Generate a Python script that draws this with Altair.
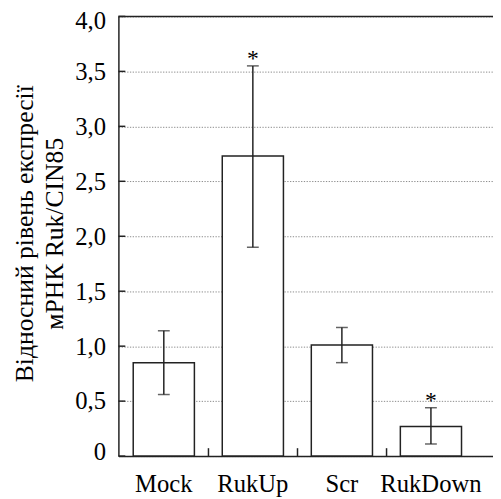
import altair as alt
import pandas as pd

categories = ["Mock", "RukUp", "Scr", "RukDown"]
means = [0.85, 2.73, 1.01, 0.27]
err_low = [0.56, 1.90, 0.85, 0.11]
err_high = [1.14, 3.55, 1.17, 0.44]
marks = ["", "*", "", "*"]
y_ticks = [0, 0.5, 1.0, 1.5, 2.0, 2.5, 3.0, 3.5, 4.0]
boundary_cats = ["RukUp", "Scr", "RukDown"]
y_title = ["Відносний рівень експресії", "мРНК Ruk/CIN85"]

W, H = 380, 446
FONT = "Liberation Serif"
INK = "#222222"

df = pd.DataFrame({"cat": categories, "mean": means, "lo": err_low,
                   "hi": err_high, "star": marks})
df_ticks = pd.DataFrame({"v": y_ticks})
df_bound = pd.DataFrame({"cat": boundary_cats})

xscale = alt.Scale(domain=categories, paddingInner=0.313, paddingOuter=0.26, align=0.32)
yscale = alt.Scale(domain=[0, 4], nice=False, zero=True)

xaxis = alt.Axis(title=None, ticks=False, grid=False, labelPadding=16, labelAngle=0,
                 labelFont=FONT, labelFontSize=25, labelColor="black")
yaxis = alt.Axis(title=y_title, values=y_ticks, ticks=False, grid=True,
                 labelPadding=13, labelFlush=True, labelFlushOffset=8,
                 labelFont=FONT, labelFontSize=25, labelColor="black",
                 labelExpr="datum.value == 0 ? '0' : replace(format(datum.value, '.1f'), '.', ',')",
                 titleFont=FONT, titleFontSize=26, titleFontWeight="normal",
                 titleColor="black", titleLineHeight=30,
                 titleX=-87, titleY=220, titleBaseline="alphabetic")

bars = alt.Chart(df).mark_bar(fill="white", stroke=INK, strokeWidth=1.5).encode(
    x=alt.X("cat:N", scale=xscale, axis=xaxis),
    y=alt.Y("mean:Q", scale=yscale, axis=yaxis),
)

err = alt.Chart(df).mark_rule(color=INK, strokeWidth=1.5).encode(
    x=alt.X("cat:N"),
    y=alt.Y("lo:Q"),
    y2="hi:Q",
)
cap_hi = alt.Chart(df).mark_tick(color=INK, thickness=1.5, size=12).encode(
    x=alt.X("cat:N"),
    y=alt.Y("hi:Q"),
)
cap_lo = alt.Chart(df).mark_tick(color=INK, thickness=1.5, size=12).encode(
    x=alt.X("cat:N"),
    y=alt.Y("lo:Q"),
)
stars = alt.Chart(df).mark_text(font=FONT, fontSize=24, color="black",
                                baseline="alphabetic", dy=0).encode(
    x=alt.X("cat:N"),
    y=alt.Y("hi:Q"),
    text="star:N",
)

ytick_rules = alt.Chart(df_ticks).mark_rule(color=INK, strokeWidth=1.5).encode(
    y=alt.Y("v:Q"),
    x=alt.value(0),
    x2=alt.value(7),
)
xtick_rules = alt.Chart(df_bound).mark_rule(color=INK, strokeWidth=1.5, xOffset=-14).encode(
    x=alt.X("cat:N", bandPosition=0),
    y=alt.value(H),
    y2=alt.value(H - 8),
)
top_border = alt.Chart(pd.DataFrame({"a": [0]})).mark_rule(color=INK, strokeWidth=1.5).encode(
    x=alt.value(0),
    x2=alt.value(W),
    y=alt.value(0),
)

chart = alt.layer(bars, err, cap_hi, cap_lo, stars, ytick_rules, xtick_rules, top_border).properties(
    width=W, height=H, autosize="none", background="white",
    padding={"left": 112, "top": 5, "right": 0, "bottom": 40},
).configure_view(stroke=None).configure_axis(
    domainColor=INK, domainWidth=1.5,
    gridDash=[1.3, 1.5], gridColor="#8a8a8a", gridWidth=1,
)

chart.save("out.html", embed_options={"renderer": "svg", "actions": False})
